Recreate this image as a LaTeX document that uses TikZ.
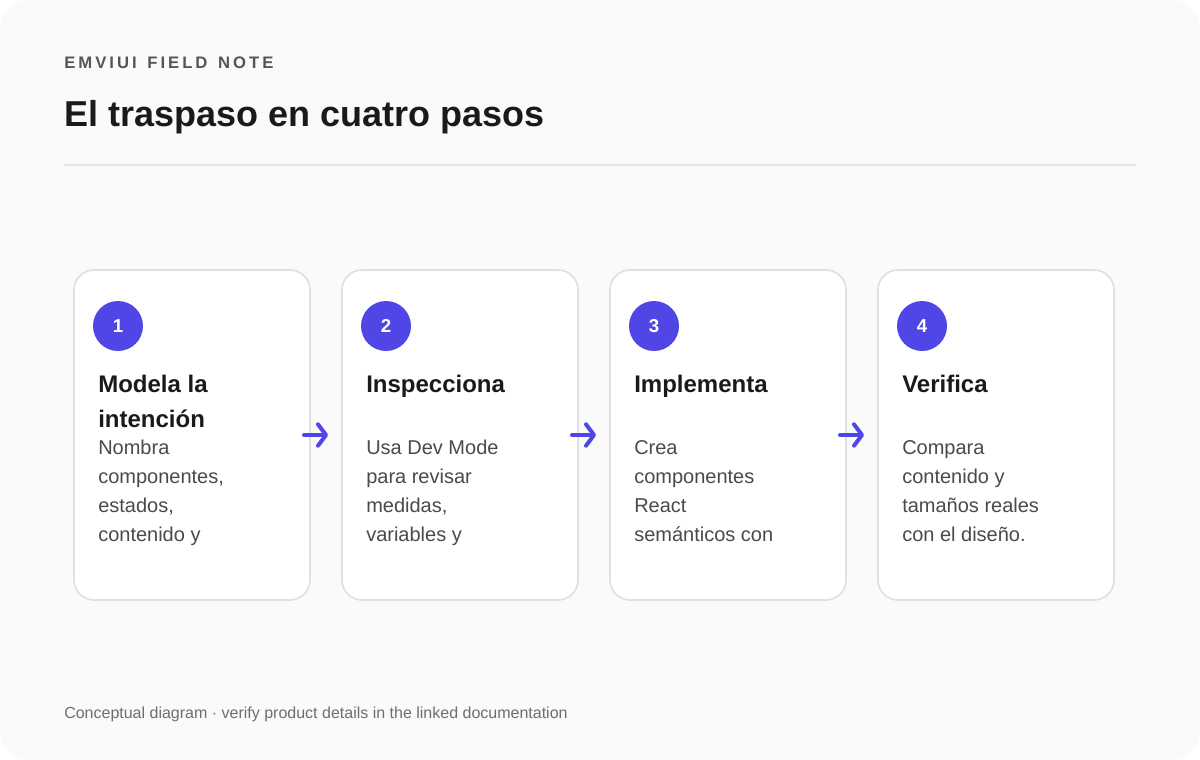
\documentclass[tikz,border=0pt]{standalone}
\usepackage{fontspec}
\setmainfont{Liberation Sans}
\newfontfamily\kickerfont{Liberation Sans}[LetterSpace=18, WordSpace=1.4]
\usetikzlibrary{
  arrows.meta,
  calc,
  positioning
}
\definecolor{pagebg}{RGB}{250,250,250}
\definecolor{cardline}{RGB}{224,224,224}
\definecolor{rulegray}{RGB}{228,228,228}
\definecolor{stepindigo}{RGB}{79,70,229}
\definecolor{inkdark}{RGB}{26,26,26}
\definecolor{inkbody}{RGB}{74,74,74}
\definecolor{inkkicker}{RGB}{85,85,85}
\definecolor{inkfoot}{RGB}{110,110,110}

\begin{document}
\begin{tikzpicture}[
  x=0.75pt, y=-0.75pt,
  card/.style={draw=cardline, fill=white, line width=1.2pt, rounded corners=15pt,
               minimum width=177pt, minimum height=247.5pt, inner sep=0pt, outer sep=0pt},
  badge/.style={circle, fill=stepindigo, minimum size=37.5pt, inner sep=0pt,
                text=white, font=\bfseries\fontsize{14pt}{16pt}\selectfont},
  heading/.style={anchor=base west, inner sep=0pt, align=left, text=inkdark,
                  font=\bfseries\fontsize{18pt}{26.25pt}\selectfont},
  body/.style={anchor=base west, inner sep=0pt, align=left, text=inkbody,
               font=\fontsize{15pt}{21.75pt}\selectfont},
  flow/.style={draw=stepindigo, line width=3pt, line cap=round,
               -{Straight Barb[length=6pt, width=16pt, round]},
               shorten <=-4.5pt, shorten >=10.5pt},
  node distance=24pt
]

% Page
\useasboundingbox (0,0) rectangle (1200,760);
\fill[white] (0,0) rectangle (1200,760);
\fill[pagebg, rounded corners=21pt] (0,0) rectangle (1200,760);

% Header
\node[anchor=base west, inner sep=0pt, text=inkkicker,
      font=\kickerfont\bfseries\fontsize{12.5pt}{14pt}\selectfont] (kicker) at (64,68) {EMVIUI FIELD NOTE};
\node[anchor=base west, inner sep=0pt, text=inkdark,
      font=\bfseries\fontsize{27pt}{32pt}\selectfont] (title) at (64,126) {El traspaso en cuatro pasos};
\draw[rulegray, line width=1.5pt] (64,165) -- (1136,165);

% Cards
\node[card, anchor=north west] at (74,270) (card1) {};
\node[card, right=of card1] (card2) {};
\node[card, right=of card2] (card3) {};
\node[card, right=of card3] (card4) {};

\node[badge] at ($(card1.north west)+(44,56)$) (num1) {1};
\node[badge] at ($(card2.north west)+(44,56)$) (num2) {2};
\node[badge] at ($(card3.north west)+(44,56)$) (num3) {3};
\node[badge] at ($(card4.north west)+(44,56)$) (num4) {4};

% base anchor sits on the last line
\node[heading] at ($(card1.north west)+(24,157)$) (head1) {Modela la\\intención};
\node[heading] at ($(card2.north west)+(24,122)$) (head2) {Inspecciona};
\node[heading] at ($(card3.north west)+(24,122)$) (head3) {Implementa};
\node[heading] at ($(card4.north west)+(24,122)$) (head4) {Verifica};

\node[body] at ($(card1.north west)+(24,271)$) (text1) {Nombra\\componentes,\\estados,\\contenido y};
\node[body] at ($(card2.north west)+(24,271)$) (text2) {Usa Dev Mode\\para revisar\\medidas,\\variables y};
\node[body] at ($(card3.north west)+(24,271)$) (text3) {Crea\\componentes\\React\\semánticos con};
\node[body] at ($(card4.north west)+(24,271)$) (text4) {Compara\\contenido y\\tamaños reales\\con el diseño.};

\draw[flow] (card1) -- (card2);
\draw[flow] (card2) -- (card3);
\draw[flow] (card3) -- (card4);

% Footer
\node[anchor=base west, inner sep=0pt, text=inkfoot,
      font=\fontsize{12pt}{14pt}\selectfont] (foot) at (64,718)
      {Conceptual diagram · verify product details in the linked documentation};

\end{tikzpicture}
\end{document}
